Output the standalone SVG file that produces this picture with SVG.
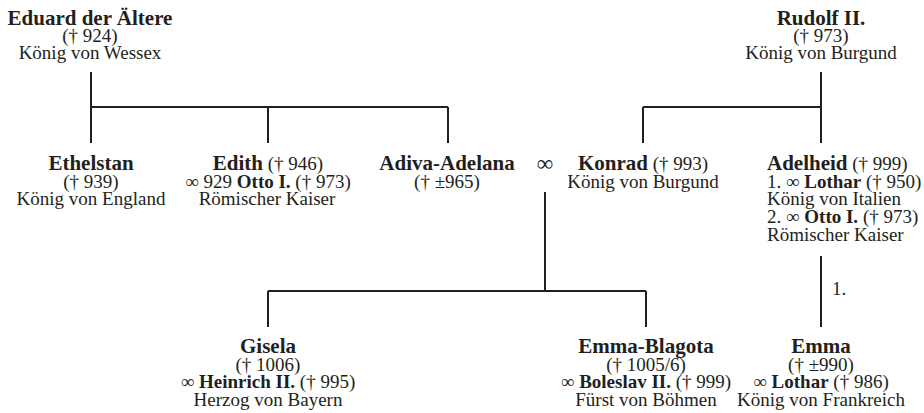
<svg xmlns="http://www.w3.org/2000/svg" width="924" height="413" viewBox="0 0 924 413">
<style>
text{font-family:"Liberation Serif","Times New Roman",serif;font-size:19px;fill:#231f20}
.c{text-anchor:middle}
.n{font-weight:bold;font-size:21px}
.b{font-weight:bold}
.ln{stroke:#231f20;stroke-width:2;fill:none}
</style>
<rect width="924" height="413" fill="#fff"/>
<g id="connectors" class="ln">
<path d="M91 72V143M91 107H448M268 107V143M448 107V143"/>
<path d="M821 72V143M643 107H821M643 107V143"/>
<path d="M545 192V291M268 291H646M268 291V327M646 291V327"/>
<path d="M821 256V327"/>
<text x="832" y="295" style="stroke:none">1.</text>
</g>
<g id="eduard">
<text class="c n" x="90" y="25">Eduard der Ältere</text>
<text class="c" x="90" y="42">(† 924)</text>
<text class="c" x="90" y="59">König von Wessex</text>
</g>
<g id="rudolf">
<text class="c n" x="821" y="25">Rudolf II.</text>
<text class="c" x="821" y="42">(† 973)</text>
<text class="c" x="821" y="59">König von Burgund</text>
</g>
<g id="ethelstan">
<text class="c n" x="91" y="170">Ethelstan</text>
<text class="c" x="91" y="187.5">(† 939)</text>
<text class="c" x="91" y="205">König von England</text>
</g>
<g id="edith">
<text class="c" x="268" y="170"><tspan class="n">Edith</tspan> († 946)</text>
<text class="c" x="268" y="187.5">∞ 929 <tspan class="b">Otto I.</tspan> († 973)</text>
<text class="c" x="267" y="205">Römischer Kaiser</text>
</g>
<g id="adiva">
<text class="c n" x="447" y="170">Adiva-Adelana</text>
<text class="c" x="447" y="187.5">(† ±965)</text>
</g>
<g id="marriage">
<text class="c" x="545" y="171" style="font-size:23px">∞</text>
</g>
<g id="konrad">
<text class="c" x="643" y="170"><tspan class="n">Konrad</tspan> († 993)</text>
<text class="c" x="643" y="187.5">König von Burgund</text>
</g>
<g id="adelheid">
<text x="767" y="170"><tspan class="n">Adelheid</tspan> († 999)</text>
<text x="767" y="187.5">1. ∞ <tspan class="b">Lothar</tspan> († 950)</text>
<text x="767" y="205">König von Italien</text>
<text x="767" y="223">2. ∞ <tspan class="b">Otto I.</tspan> († 973)</text>
<text x="767" y="241">Römischer Kaiser</text>
</g>
<g id="gisela">
<text class="c n" x="268" y="353">Gisela</text>
<text class="c" x="268" y="370.5">(† 1006)</text>
<text class="c" x="268" y="388">∞ <tspan class="b">Heinrich II.</tspan> († 995)</text>
<text class="c" x="268" y="405.5">Herzog von Bayern</text>
</g>
<g id="emma-blagota">
<text class="c n" x="646" y="353">Emma-Blagota</text>
<text class="c" x="646" y="370.5">(† 1005/6)</text>
<text class="c" x="646" y="388">∞ <tspan class="b">Boleslav II.</tspan> († 999)</text>
<text class="c" x="646" y="405.5">Fürst von Böhmen</text>
</g>
<g id="emma">
<text class="c n" x="821" y="353">Emma</text>
<text class="c" x="821" y="370.5">(† ±990)</text>
<text class="c" x="821" y="388">∞ <tspan class="b">Lothar</tspan> († 986)</text>
<text class="c" x="821" y="405.5">König von Frankreich</text>
</g>
</svg>
